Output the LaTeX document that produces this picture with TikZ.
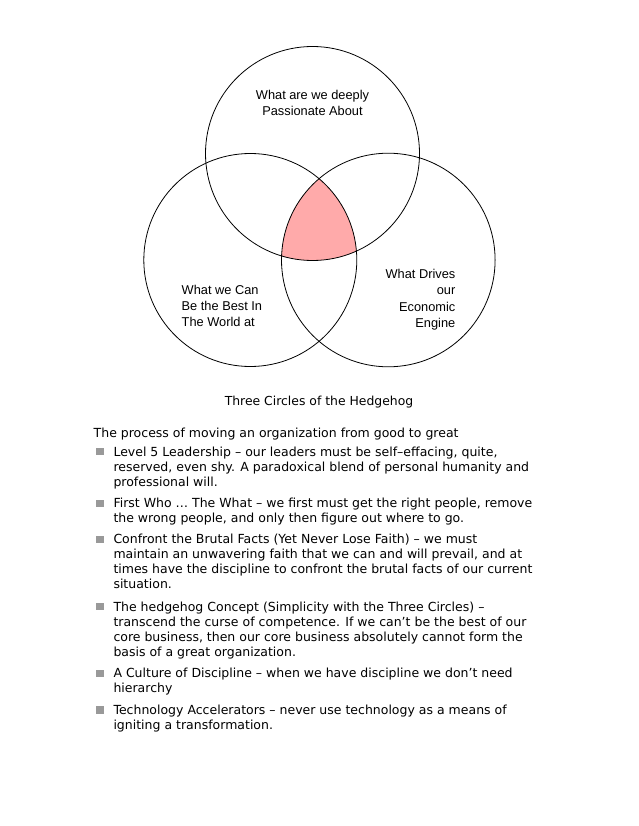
\documentclass[tikz,border=0pt]{standalone}
\usepackage{fontspec}
\setmainfont{DejaVu Sans}
\newfontfamily\arialfont{Liberation Sans}
\begin{document}
\begin{tikzpicture}[x=1pt,y=-1pt,
  ring/.style={draw=black,line width=0.8pt},
  clabel/.style={font=\arialfont\fontsize{12.8}{15.9}\selectfont,inner sep=0pt},
  bodytext/.style={font=\fontsize{12.5}{15}\selectfont,inner sep=0pt,align=left,anchor=north west},
  bulletsq/.style={fill=black!40,minimum size=7.5pt,inner sep=0pt}]
\useasboundingbox (0,0) rectangle (638,826);
\fill[white] (0,0) rectangle (638,826);
\coordinate (ct) at (312.5,153.5);
\coordinate (cl) at (250.3,260);
\coordinate (cr) at (388.3,260);
\begin{scope}
  \clip (ct) circle (107);
  \clip (cl) circle (106.5);
  \fill[fill={rgb,255:red,255;green,170;blue,170}] (cr) circle (106.8);
\end{scope}
\draw[ring] (ct) circle (107);
\draw[ring] (cl) circle (106.5);
\draw[ring] (cr) circle (106.8);
\node[clabel,align=center] (ltop) at (312.5,102.5) {What are we deeply\\Passionate About};
\node[clabel,align=left,anchor=west] (lleft) at (181.5,306) {What we Can\\Be the Best In\\The World at};
\node[clabel,align=right,anchor=east,font=\arialfont\fontsize{12.8}{16.4}\selectfont] (lright) at (455.5,299.5) {What Drives\\our\\Economic\\Engine};
\node[font=\fontsize{12.4}{15}\selectfont,inner sep=0pt] (cap) at (319,402) {Three Circles of the Hedgehog};
\node[bodytext] (intro) at (93.5,428) {The process of moving an organization from good to great};
\node[bulletsq] (b1) at (100,451.7) {};
\node[bodytext] (t1) at (113.3,446.5) {Level 5 Leadership -- our leaders must be self--effacing, quite,\\reserved, even shy. A paradoxical blend of personal humanity and\\professional will.};
\node[bulletsq] (b2) at (100,503.3) {};
\node[bodytext] (t2) at (113.3,498.1) {First Who … The What -- we first must get the right people, remove\\the wrong people, and only then figure out where to go.};
\node[bulletsq] (b3) at (100,539.3) {};
\node[bodytext] (t3) at (113.3,534.1) {Confront the Brutal Facts (Yet Never Lose Faith) -- we must\\maintain an unwavering faith that we can and will prevail, and at\\times have the discipline to confront the brutal facts of our current\\situation.};
\node[bulletsq] (b4) at (100,606.7) {};
\node[bodytext] (t4) at (113.3,601.5) {The hedgehog Concept (Simplicity with the Three Circles) --\\transcend the curse of competence. If we can’t be the best of our\\core business, then our core business absolutely cannot form the\\basis of a great organization.};
\node[bulletsq] (b5) at (100,673.3) {};
\node[bodytext] (t5) at (113.3,668.1) {A Culture of Discipline -- when we have discipline we don’t need\\hierarchy};
\node[bulletsq] (b6) at (100,710) {};
\node[bodytext] (t6) at (113.3,704.8) {Technology Accelerators -- never use technology as a means of\\igniting a transformation.};
\end{tikzpicture}
\end{document}
